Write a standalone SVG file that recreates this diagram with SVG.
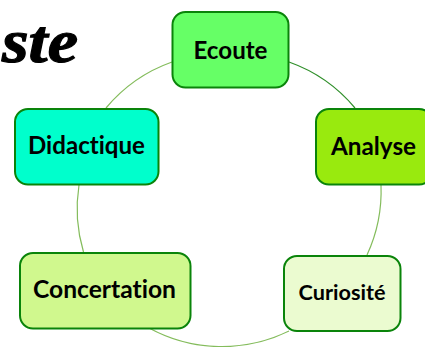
<svg xmlns="http://www.w3.org/2000/svg" width="425" height="347" viewBox="0 0 425 347">
<style>
.n{stroke:#0a840a;stroke-width:2}
.t{font-family:"Lato","Liberation Sans",sans-serif;font-weight:700;fill:#000;text-anchor:middle;font-variant-ligatures:none}
.c{fill:none;stroke:#84bc5c;stroke-width:1.2}
.d{fill:none;stroke:#2f8f2a;stroke-width:1.2}
.s{font-family:"Liberation Serif",serif;font-style:italic;font-weight:700;font-size:62px;fill:#000;stroke:#000;stroke-width:1.2}
</style>
<rect width="425" height="347" fill="#fff"/>
<text class="s" x="2" y="62" textLength="76" lengthAdjust="spacingAndGlyphs">ste</text>
<g id="connectors">
<path class="c" d="M172 62A152 152 0 0 0 106 108"/>
<path class="d" d="M289 62A152 152 0 0 1 355 108"/>
<path class="c" d="M381 185A152 152 0 0 1 367 255"/>
<path class="c" d="M289 331A152 152 0 0 1 149 328"/>
<path class="c" d="M79 185A152 152 0 0 0 83.500 252"/>
</g>
<g id="ecoute"><rect class="n" x="172.500" y="12" width="116" height="75.500" rx="13" fill="#66ff66"/><text class="t" x="230.500" y="58.500" font-size="24" textLength="74" lengthAdjust="spacingAndGlyphs">Ecoute</text></g>
<g id="analyse"><rect class="n" x="316" y="109" width="116" height="75.500" rx="13" fill="#99ea0e"/><text class="t" x="373.500" y="154.500" font-size="24" textLength="85" lengthAdjust="spacingAndGlyphs">Analyse</text></g>
<g id="curiosite"><rect class="n" x="284" y="256" width="116.500" height="75" rx="13" fill="#ebfbd0"/><text class="t" x="342" y="300" font-size="21" textLength="87" lengthAdjust="spacingAndGlyphs">Curiosité</text></g>
<g id="concertation"><rect class="n" x="20" y="253" width="170.500" height="75.500" rx="13" fill="#d0f88e"/><text class="t" x="104.500" y="298" font-size="24" textLength="143" lengthAdjust="spacingAndGlyphs">Concertation</text></g>
<g id="didactique"><rect class="n" x="15" y="109" width="143.500" height="75.500" rx="13" fill="#00ffcc"/><text class="t" x="86.500" y="154" font-size="24" textLength="117" lengthAdjust="spacingAndGlyphs">Didactique</text></g>
</svg>
